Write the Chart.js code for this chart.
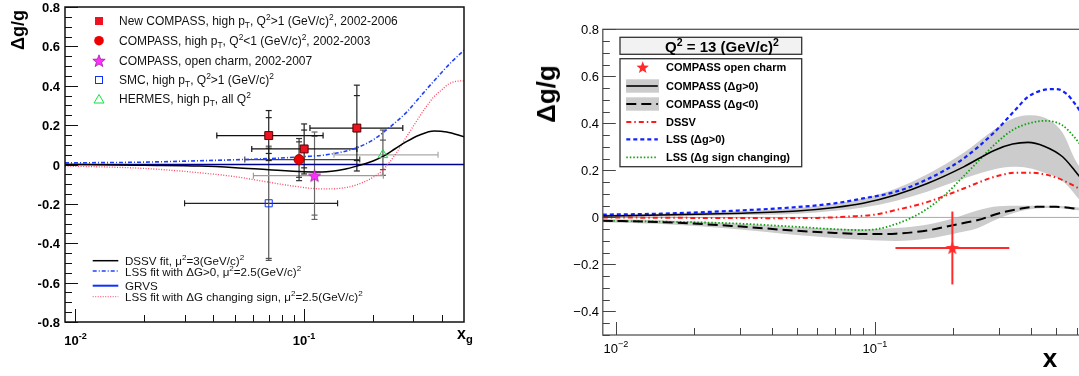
<!DOCTYPE html>
<html><head><meta charset="utf-8">
<script src="https://cdn.jsdelivr.net/npm/chart.js@4"></script>
<style>
html,body{margin:0;padding:0;background:#fff;overflow:hidden;width:1079px;height:376px;}
#wrap{position:relative;width:1079px;height:376px;overflow:hidden;}
canvas{position:absolute;top:0;}
.t{position:absolute;white-space:nowrap;font-family:"Liberation Sans",Arial,Helvetica,sans-serif;color:#000;line-height:1;}
.t sup,.t sub{font-size:70%;line-height:0;}
</style></head><body><div id="wrap">
<canvas id="cL" width="480" height="376" style="left:0;width:480px;height:376px"></canvas>
<canvas id="cR" width="612" height="376" style="left:530px;width:612px;height:376px"></canvas>
</div>
<script>
// ---------------- LEFT PANEL DATA ----------------
const L_yTicks=[0.8,0.6,0.4,0.2,0,-0.2,-0.4,-0.6,-0.8];
const L_yTickLabels=['0.8','0.6','0.4','0.2','0','-0.2','-0.4','-0.6','-0.8'];
const L_xMajor=[0.01,0.1];
const L_xTickLabels=['10<sup>-2</sup>','10<sup>-1</sup>'];
const L_xMinor=[0.02,0.03,0.04,0.05,0.06,0.07,0.08,0.09,0.2,0.3,0.4];

const newCompassX=[0.07,0.10,0.17];
const newCompassY=[0.147,0.079,0.185];
const newCompassXLo=[0.0415,0.059,0.106];
const newCompassXHi=[0.121,0.170,0.27];
const newCompassStat=[0.091,0.096,0.165];
const newCompassTot=[0.127,0.127,0.218];

const lowQ2X=[0.095], lowQ2Y=[0.025], lowQ2XLo=[0.055], lowQ2XHi=[0.175], lowQ2Stat=[0.09], lowQ2Tot=[0.107];
const charmLX=[0.111], charmLY=[-0.057], charmLXLo=[0.06], charmLXHi=[0.222], charmLStat=[0.2], charmLTot=[0.222];
const smcX=[0.07], smcY=[-0.197], smcXLo=[0.03], smcXHi=[0.14], smcStat=[0.28], smcTot=[0.29];
const hermesX=[0.221], hermesY=[0.049], hermesXLo=[0.135], hermesXHi=[0.385], hermesStat=[0.075], hermesTotUp=[0.126], hermesTotDn=[0.104];

const dssvLX=[0.009,0.015,0.02,0.035,0.05,0.07,0.1,0.12,0.15,0.17,0.2,0.22,0.25,0.28,0.32,0.37,0.42,0.5];
const dssvLY=[0.0,-0.002,-0.004,-0.008,-0.016,-0.027,-0.037,-0.038,-0.024,-0.008,0.018,0.04,0.08,0.116,0.15,0.17,0.165,0.141];
const lssPosLX=[0.009,0.02,0.03,0.05,0.07,0.1,0.13,0.17,0.2,0.24,0.28,0.33,0.38,0.44,0.5];
const lssPosLY=[0.008,0.012,0.017,0.024,0.03,0.04,0.052,0.085,0.125,0.195,0.265,0.36,0.44,0.52,0.58];
const lssChgLX=[0.009,0.015,0.02,0.03,0.05,0.07,0.09,0.11,0.13,0.15,0.17,0.2,0.22,0.25,0.28,0.31,0.34,0.37,0.4,0.43,0.46,0.5];
const lssChgLY=[-0.008,-0.014,-0.02,-0.035,-0.062,-0.09,-0.11,-0.122,-0.124,-0.118,-0.103,-0.065,-0.03,0.05,0.14,0.22,0.29,0.345,0.38,0.41,0.422,0.425];
const grvsLX=[0.009,0.5];
const grvsLY=[0,0];

// ---------------- RIGHT PANEL DATA ----------------
const R_yTicks=[0.8,0.6,0.4,0.2,0,-0.2,-0.4];
const R_yTickLabels=['0.8','0.6','0.4','0.2','0','\u22120.2','\u22120.4'];
const R_xMajor=[0.01,0.1];
const R_xTickLabels=['10<sup>\u22122</sup>','10<sup>\u22121</sup>'];
const R_xMinor=[0.02,0.03,0.04,0.05,0.06,0.07,0.08,0.09,0.2,0.3,0.4,0.5,0.6,0.7,0.8,0.9];

const charmRX=[0.199], charmRY=[-0.13], charmRXLo=[0.12], charmRXHi=[0.33], charmRErr=[0.155];

const posX=[0.0089,0.015,0.028,0.05,0.07,0.09,0.12,0.16,0.22,0.29,0.34,0.39,0.45,0.53,0.59,0.63];
const posY=[0.006,0.01,0.017,0.027,0.042,0.06,0.095,0.145,0.215,0.286,0.312,0.319,0.303,0.258,0.2,0.16];
const posUp=[0.012,0.017,0.026,0.04,0.058,0.08,0.122,0.185,0.275,0.375,0.42,0.435,0.425,0.36,0.25,0.2];
const posLo=[0.0,0.004,0.009,0.016,0.028,0.042,0.07,0.11,0.165,0.205,0.215,0.21,0.19,0.155,0.1,0.06];

const negX=[0.0089,0.015,0.028,0.05,0.07,0.09,0.12,0.16,0.2,0.25,0.3,0.36,0.42,0.5,0.59,0.63];
const negY=[-0.014,-0.02,-0.036,-0.057,-0.066,-0.071,-0.069,-0.055,-0.033,-0.011,0.017,0.036,0.045,0.045,0.038,0.035];
const negUp=[-0.008,-0.012,-0.025,-0.042,-0.048,-0.05,-0.045,-0.03,-0.005,0.03,0.048,0.05,0.05,0.05,0.044,0.04];
const negLo=[-0.02,-0.028,-0.048,-0.075,-0.088,-0.095,-0.1,-0.09,-0.07,-0.045,-0.005,0.025,0.038,0.04,0.032,0.03];

const dssvRX=[0.0089,0.02,0.04,0.06,0.08,0.1,0.12,0.16,0.22,0.29,0.35,0.4,0.5,0.59,0.63];
const dssvRY=[0.0,-0.002,-0.003,-0.002,0.004,0.012,0.031,0.066,0.123,0.173,0.19,0.19,0.17,0.133,0.115];
const lssPosRX=[0.0089,0.015,0.028,0.05,0.07,0.09,0.12,0.16,0.22,0.29,0.34,0.39,0.44,0.5,0.55,0.59,0.63];
const lssPosRY=[0.012,0.016,0.028,0.044,0.06,0.081,0.109,0.163,0.251,0.364,0.445,0.513,0.54,0.546,0.525,0.485,0.44];
const lssChgRX=[0.0089,0.015,0.028,0.05,0.07,0.09,0.105,0.122,0.141,0.163,0.189,0.219,0.253,0.293,0.339,0.393,0.455,0.527,0.587,0.63];
const lssChgRY=[-0.014,-0.018,-0.025,-0.04,-0.05,-0.054,-0.047,-0.026,0.003,0.045,0.102,0.173,0.244,0.315,0.371,0.40,0.411,0.393,0.343,0.3];
const zeroRX=[0.0089,1], zeroRY=[0,0];

// ---------------- helpers ----------------
const wrap=document.getElementById('wrap');
function T(html,x,y,size,weight,anchor,rot,color){
  const d=document.createElement('div');d.className='t';d.innerHTML=html;
  d.style.left=x+'px';d.style.top=y+'px';d.style.fontSize=size+'px';d.style.fontWeight=weight||'normal';
  if(color)d.style.color=color;
  const tx=anchor==='l'?'0':anchor==='r'?'-100%':'-50%';
  d.style.transform='translate('+tx+',-50%)'+(rot?' rotate('+rot+'deg)':'');
  wrap.appendChild(d);return d;
}
function xy(xs,ys){return xs.map((x,i)=>({x:x,y:ys[i]}));}
function line(xs,ys,color,width,dash,order,extra){
  return Object.assign({data:xy(xs,ys),borderColor:color,borderWidth:width,borderDash:dash||[],
    pointRadius:0,fill:false,cubicInterpolationMode:'monotone',order:order},extra||{});
}
function pts(xs,ys,style,r,fill,stroke,order){
  return {data:xy(xs,ys),showLine:false,pointStyle:style,pointRadius:r,backgroundColor:fill,
    borderColor:stroke,borderWidth:1,order:order};
}
function starCanvas(R,fill,stroke){
  const c=document.createElement('canvas');const s=Math.ceil(R*2+4);c.width=s;c.height=s;
  const g=c.getContext('2d');const cx=s/2,cy=s/2+0.5;g.beginPath();
  for(let i=0;i<10;i++){const r=i%2?R*0.42:R;const a=-Math.PI/2+i*Math.PI/5;g.lineTo(cx+r*Math.cos(a),cy+r*Math.sin(a));}
  g.closePath();g.fillStyle=fill;g.fill();if(stroke){g.strokeStyle=stroke;g.lineWidth=0.8;g.stroke();}
  return c;
}
function seg(ctx,x1,y1,x2,y2){ctx.beginPath();ctx.moveTo(x1,y1);ctx.lineTo(x2,y2);ctx.stroke();}
function drawStarAt(ctx,cx,cy,R,fill,stroke){
  ctx.beginPath();
  for(let i=0;i<10;i++){const r=i%2?R*0.42:R;const a=-Math.PI/2+i*Math.PI/5;ctx.lineTo(cx+r*Math.cos(a),cy+r*Math.sin(a));}
  ctx.closePath();ctx.fillStyle=fill;ctx.fill();if(stroke){ctx.strokeStyle=stroke;ctx.lineWidth=0.8;ctx.stroke();}
}
function ticks(ctx,ch,yMajor,yStepMinor,xMajor,xMinor,color){
  const a=ch.chartArea,X=ch.scales.x,Y=ch.scales.y;
  ctx.save();ctx.strokeStyle=color;ctx.lineWidth=1;
  for(let v=Math.ceil(Y.min/yStepMinor-1e-6);v*yStepMinor<=Y.max+1e-9;v++){
    const yy=Math.round(Y.getPixelForValue(v*yStepMinor))+0.5;
    const major=yMajor.some(m=>Math.abs(m-v*yStepMinor)<1e-6);
    seg(ctx,a.left,yy,a.left+(major?13:7),yy);
  }
  xMajor.forEach(v=>{const xx=Math.round(X.getPixelForValue(v))+0.5;seg(ctx,xx,a.bottom,xx,a.bottom-13);});
  xMinor.forEach(v=>{const xx=Math.round(X.getPixelForValue(v))+0.5;seg(ctx,xx,a.bottom,xx,a.bottom-7);});
  ctx.restore();
}
function errs(ctx,ch,xs,ys,xlo,xhi,stat,totUp,totDn,hCol,vCol,cap){
  const X=ch.scales.x,Y=ch.scales.y;
  ctx.save();ctx.lineWidth=1.2;
  for(let i=0;i<xs.length;i++){
    const px=X.getPixelForValue(xs[i]),py=Y.getPixelForValue(ys[i]);
    const x1=X.getPixelForValue(xlo[i]),x2=X.getPixelForValue(xhi[i]);
    ctx.strokeStyle=hCol;seg(ctx,x1,py,x2,py);
    if(cap){seg(ctx,x1,py-3,x1,py+3);seg(ctx,x2,py-3,x2,py+3);}
    const yt=Y.getPixelForValue(ys[i]+totUp[i]),yb=Y.getPixelForValue(ys[i]-totDn[i]);
    ctx.strokeStyle=vCol;seg(ctx,px,yt,px,yb);
    if(cap){
      seg(ctx,px-3,yt,px+3,yt);seg(ctx,px-3,yb,px+3,yb);
      const st=Y.getPixelForValue(ys[i]+stat[i]),sb=Y.getPixelForValue(ys[i]-stat[i]);
      seg(ctx,px-3,st,px+3,st);seg(ctx,px-3,sb,px+3,sb);
    }
  }
  ctx.restore();
}

// ---------------- LEFT CHART ----------------
const starL=starCanvas(6.5,'#ff30ff','#a020a0');
const starR=starCanvas(7,'#ff2a2a',null);

const leftPlugin={id:'leftDeco',
  beforeDatasetsDraw(ch){
    const ctx=ch.ctx;
    errs(ctx,ch,smcX,smcY,smcXLo,smcXHi,smcStat,smcTot,smcTot,'#222','#555',true);
    errs(ctx,ch,hermesX,hermesY,hermesXLo,hermesXHi,hermesStat,hermesTotUp,hermesTotDn,'#aaa','#555',true);
    errs(ctx,ch,charmLX,charmLY,charmLXLo,charmLXHi,charmLStat,charmLTot,charmLTot,'#9a9a9a','#666',true);
    errs(ctx,ch,lowQ2X,lowQ2Y,lowQ2XLo,lowQ2XHi,lowQ2Stat,lowQ2Tot,lowQ2Tot,'#444','#333',true);
    errs(ctx,ch,newCompassX,newCompassY,newCompassXLo,newCompassXHi,newCompassStat,newCompassTot,newCompassTot,'#111','#222',true);
  },
  afterDraw(ch){
    const ctx=ch.ctx,a=ch.chartArea;
    ctx.save();ctx.strokeStyle='#111';ctx.lineWidth=1.5;
    ctx.strokeRect(a.left,a.top,a.right-a.left,a.bottom-a.top);ctx.restore();
    ticks(ctx,ch,L_yTicks,0.05,L_xMajor,L_xMinor,'#111');
    ctx.save();
    ctx.fillStyle='#ee1122';
    ctx.fillRect(95,17,8,8);
    ctx.beginPath();ctx.arc(99,40.7,4.8,0,Math.PI*2);ctx.fillStyle='#ee0000';ctx.fill();
    drawStarAt(ctx,99,61.3,6.5,'#ff30ff','#a020a0');
    ctx.strokeStyle='#1030ff';ctx.lineWidth=1;ctx.strokeRect(95.5,76.5,7,7);
    ctx.strokeStyle='#10e040';ctx.beginPath();ctx.moveTo(99,94.5);ctx.lineTo(104,103);ctx.lineTo(94,103);ctx.closePath();ctx.stroke();
    ctx.lineWidth=1.5;ctx.strokeStyle='#000';seg(ctx,92.7,260.7,118.3,260.7);
    ctx.strokeStyle='#2040ff';ctx.setLineDash([4,2,1,2]);seg(ctx,92.7,271,118.3,271);
    ctx.setLineDash([]);ctx.strokeStyle='#1030ff';ctx.lineWidth=2;seg(ctx,92.7,285.7,118.3,285.7);
    ctx.strokeStyle='#ff4060';ctx.lineWidth=1;ctx.setLineDash([1,1.5]);seg(ctx,92.7,296.7,118.3,296.7);
    ctx.restore();
  }
};

const chartL=new Chart(document.getElementById('cL'),{
  type:'line',
  data:{datasets:[
    line(grvsLX,grvsLY,'#000090',1.5,[],20),
    line(lssChgLX,lssChgLY,'#ff4060',1.3,[1,1.6],19),
    line(lssPosLX,lssPosLY,'#2040ff',1.6,[4,2,1,2],18),
    line(dssvLX,dssvLY,'#000000',1.5,[],17),
    pts(smcX,smcY,'rect',5,'rgba(0,0,0,0)','#1030ff',5),
    pts(hermesX,hermesY,'triangle',5.5,'rgba(0,0,0,0)','#10e040',4),
    pts(lowQ2X,lowQ2Y,'circle',5,'#ee0000','#900',3),
    pts(newCompassX,newCompassY,'rect',5.6,'#ee1122','#500',2),
    {data:xy(charmLX,charmLY),showLine:false,pointStyle:starL,pointRadius:6,order:1}
  ]},
  options:{responsive:false,animation:false,devicePixelRatio:1,
    layout:{padding:{left:65,right:16,top:7,bottom:54}},
    plugins:{legend:{display:false},tooltip:{enabled:false}},
    scales:{x:{type:'logarithmic',min:0.009,max:0.5,display:false},
            y:{type:'linear',min:-0.8,max:0.8,display:false}}
  },
  plugins:[leftPlugin]
});

// ---------------- RIGHT CHART ----------------
const rightPlugin={id:'rightDeco',
  afterDatasetsDraw(ch){
    const ctx=ch.ctx,X=ch.scales.x,Y=ch.scales.y;
    ctx.save();ctx.strokeStyle='#ff2a2a';ctx.lineWidth=2;
    for(let i=0;i<charmRX.length;i++){
      const px=X.getPixelForValue(charmRX[i]),py=Y.getPixelForValue(charmRY[i]);
      seg(ctx,X.getPixelForValue(charmRXLo[i]),py,X.getPixelForValue(charmRXHi[i]),py);
      seg(ctx,px,Y.getPixelForValue(charmRY[i]+charmRErr[i]),px,Y.getPixelForValue(charmRY[i]-charmRErr[i]));
    }
    ctx.restore();
  },
  afterDraw(ch){
    const ctx=ch.ctx,a=ch.chartArea;
    ctx.save();ctx.strokeStyle='#555';ctx.lineWidth=1.3;
    ctx.strokeRect(a.left,a.top,a.right-a.left,a.bottom-a.top);ctx.restore();
    ticks(ctx,ch,R_yTicks,0.05,R_xMajor,R_xMinor,'#444');
    ctx.save();
    ctx.fillStyle='#f2f2f2';ctx.fillRect(90,37.3,181.7,17);
    ctx.strokeStyle='#333';ctx.lineWidth=1.3;ctx.strokeRect(90,37.3,181.7,17);
    ctx.fillStyle='#fff';ctx.fillRect(90,58.7,181.7,108);ctx.strokeRect(90,58.7,181.7,108);
    drawStarAt(ctx,112.7,67.8,6.5,'#ff2a2a',null);
    ctx.fillStyle='#cccccc';ctx.fillRect(96,79.3,33,13.4);ctx.fillRect(96,97.3,33,13.4);
    ctx.strokeStyle='#000';ctx.lineWidth=1.6;seg(ctx,96.3,86,127.8,86);
    ctx.lineWidth=2;ctx.setLineDash([10,5]);seg(ctx,96.3,104,127.8,104);
    ctx.strokeStyle='#ff1a1a';ctx.lineWidth=2;ctx.setLineDash([5,3,1.5,3]);seg(ctx,96.3,122,127.8,122);
    ctx.strokeStyle='#1020ff';ctx.lineWidth=2.2;ctx.setLineDash([4,3]);seg(ctx,96.3,139.3,127.8,139.3);
    ctx.strokeStyle='#10a010';ctx.lineWidth=1.8;ctx.setLineDash([1.5,2]);seg(ctx,96.3,157.3,127.8,157.3);
    ctx.restore();
  }
};

const chartR=new Chart(document.getElementById('cR'),{
  type:'line',
  data:{datasets:[
    line(posX,posUp,'rgba(0,0,0,0)',0,[],30,{fill:'+1',backgroundColor:'#cccccc'}),
    line(posX,posLo,'rgba(0,0,0,0)',0,[],31),
    line(negX,negUp,'rgba(0,0,0,0)',0,[],30,{fill:'+1',backgroundColor:'#cccccc'}),
    line(negX,negLo,'rgba(0,0,0,0)',0,[],31),
    line(zeroRX,zeroRY,'#aaaaaa',1,[],25,{cubicInterpolationMode:'default'}),
    line(dssvRX,dssvRY,'#ff1a1a',2,[5,3,1.5,3],6),
    line(lssChgRX,lssChgRY,'#10a010',1.8,[1.5,2],5),
    line(lssPosRX,lssPosRY,'#1020ff',2.2,[4,3],4),
    line(posX,posY,'#000000',1.6,[],3),
    line(negX,negY,'#000000',2,[10,5],2),
    {data:xy(charmRX,charmRY),showLine:false,pointStyle:starR,pointRadius:7,order:1}
  ]},
  options:{responsive:false,animation:false,devicePixelRatio:1,
    layout:{padding:{left:72.8,right:2.4,top:29.3,bottom:41}},
    plugins:{legend:{display:false},tooltip:{enabled:false},filler:{propagate:false}},
    scales:{x:{type:'logarithmic',min:0.0089,max:1,display:false},
            y:{type:'linear',min:-0.5,max:0.8,display:false}}
  },
  plugins:[rightPlugin]
});

// ---------------- TEXT (HTML) ----------------
(function(){
  const XL=chartL.scales.x,YL=chartL.scales.y;
  L_yTicks.forEach((v,i)=>T(L_yTickLabels[i],60,YL.getPixelForValue(v),13,'bold','r'));
  L_xMajor.forEach((v,i)=>T(L_xTickLabels[i],XL.getPixelForValue(v),340,13,'bold','c'));
  T('x<sub>g</sub>',457,334,16,'bold','l');
  T('\u0394g/g',18,30,18,'bold','c',-90);
  const topLeg=['New COMPASS, high p<sub>T</sub>, Q<sup>2</sup>&gt;1 (GeV/c)<sup>2</sup>, 2002-2006',
    'COMPASS, high p<sub>T</sub>, Q<sup>2</sup>&lt;1 (GeV/c)<sup>2</sup>, 2002-2003',
    'COMPASS, open charm, 2002-2007',
    'SMC, high p<sub>T</sub>, Q<sup>2</sup>&gt;1 (GeV/c)<sup>2</sup>',
    'HERMES, high p<sub>T</sub>, all Q<sup>2</sup>'];
  const topY=[21,40.7,60.7,80,99.3];
  topLeg.forEach((s,i)=>T(s,119,topY[i],12,'normal','l','', '#111'));
  const botLeg=['DSSV fit, \u03bc<sup>2</sup>=3(GeV/c)<sup>2</sup>',
    'LSS fit with \u0394G&gt;0, \u03bc<sup>2</sup>=2.5(GeV/c)<sup>2</sup>',
    'GRVS',
    'LSS fit with \u0394G changing sign, \u03bc<sup>2</sup>=2.5(GeV/c)<sup>2</sup>'];
  const botY=[261,271.5,286,297];
  botLeg.forEach((s,i)=>T(s,125,botY[i],11.6,'normal','l','', '#111'));

  const XR=chartR.scales.x,YR=chartR.scales.y;
  R_yTicks.forEach((v,i)=>T(R_yTickLabels[i],530+69,YR.getPixelForValue(v),13,'normal','r'));
  R_xMajor.forEach((v,i)=>T(R_xTickLabels[i],530+XR.getPixelForValue(v),348,13,'normal','c'));
  T('x',1050,358,26,'bold','c');
  T('\u0394g/g',546,93.5,26,'bold','c',-90);
  T('Q<sup>2</sup> = 13 (GeV/c)<sup>2</sup>',722,46,15,'bold','c');
  const rLeg=['COMPASS open charm','COMPASS (\u0394g&gt;0)','COMPASS (\u0394g&lt;0)','DSSV','LSS (\u0394g&gt;0)','LSS (\u0394g sign changing)'];
  const rY=[67.3,86,104,122,139.3,157.3];
  rLeg.forEach((s,i)=>T(s,666,rY[i],11,'bold','l'));
})();
</script>
</body></html>
